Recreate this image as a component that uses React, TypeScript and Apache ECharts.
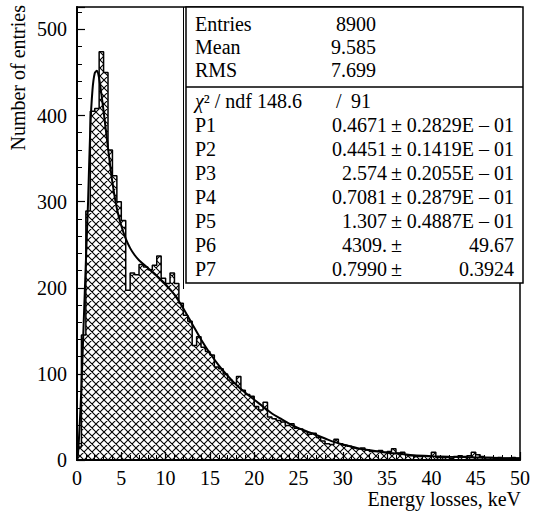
import React, { useEffect, useRef } from "react";
import * as echarts from "echarts";

// ---- data ----
const binWidth = 0.5;
const counts = [
  15, 145, 289, 405, 408, 474, 450, 360, 330, 300,
  278, 197, 217, 215, 227, 224, 221, 226, 237, 211,
  205, 217, 205, 182, 168, 161, 133, 143, 131, 126,
  122, 108, 106, 100, 93, 89, 97, 81, 76, 74,
  62, 58, 67, 50, 48, 46, 44, 40, 42, 37,
  36, 33, 30, 31, 26, 22, 19, 18, 24, 19,
  17, 16, 14, 13, 14, 12, 10, 10, 11, 9,
  10, 13, 8, 9, 6, 5, 4, 4, 5, 4,
  9, 3, 3, 3, 2, 4, 5, 4, 5, 9,
  6, 4, 3, 3, 2, 3, 2, 2, 3, 2,
];
const fitX = [0, 0.1, 0.3, 0.5, 0.75, 1.0, 1.25, 1.5, 1.75, 2.0, 2.25, 2.5, 2.75, 3.0, 3.5, 4.0, 4.5, 5.0, 5.5, 6.0, 6.5, 7.0, 8.0, 9.0, 10, 11, 12, 13, 14, 15, 16, 17, 18, 19, 20, 21, 22, 23, 24, 25, 26, 27, 28, 29, 30, 32, 34, 36, 38, 40, 42, 45, 48, 50];
const fitY = [0, 5, 40, 85, 158, 230, 300, 385, 430, 449, 452, 443, 425, 405, 362, 322, 292, 272, 257, 246, 238, 232, 223, 214, 204, 192, 176, 158, 140, 124, 110, 98, 87, 78, 70, 62, 54, 48, 42, 37, 33, 29, 25, 21, 18, 13, 10, 7.5, 5.5, 4.5, 3.8, 3, 2.3, 2];

const statLabels = ["Entries", "Mean", "RMS"];
const statValues = ["8900", "9.585", "7.699"];
const chi2 = "148.6";
const ndf = "91";
const parNames = ["P1", "P2", "P3", "P4", "P5", "P6", "P7"];
const parValues = ["0.4671", "0.4451", "2.574", "0.7081", "1.307", "4309.", "0.7990"];
const parErrors = ["0.2829E – 01", "0.1419E – 01", "0.2055E – 01", "0.2879E – 01", "0.4887E – 01", "49.67", "0.3924"];

const xTitle = "Energy losses, keV";
const yTitle = "Number of entries";

const FONT = "Liberation Serif";

export default function App() {
  const ref = useRef<HTMLDivElement>(null);
  useEffect(() => {
    if (!ref.current) return;
    const chart = echarts.init(ref.current, undefined, { renderer: "svg" });

    const tile = document.createElement("canvas");
    tile.width = 8;
    tile.height = 8;
    const ctx = tile.getContext("2d")!;
    ctx.strokeStyle = "#000";
    ctx.lineWidth = 1.1;
    ctx.beginPath();
    for (const d of [-8, 0, 8]) {
      ctx.moveTo(d, 0);
      ctx.lineTo(d + 8, 8);
      ctx.moveTo(d + 8, 0);
      ctx.lineTo(d, 8);
    }
    ctx.stroke();

    const histData: number[][] = [[0, 0]];
    counts.forEach((c, i) => histData.push([i * binWidth, c]));
    histData.push([counts.length * binWidth, counts[counts.length - 1]]);
    histData.push([counts.length * binWidth, 0]);

    const fitData = fitX.map((x, i) => [x, fitY[i]]);

    const txt = (text: string, x: number, y: number, align: string, extra: any = {}) => ({
      type: "text",
      x,
      y,
      z: 101,
      style: {
        text,
        fill: "#000",
        fontFamily: FONT,
        fontSize: 20,
        align,
        verticalAlign: "middle",
        ...extra,
      },
    });

    const statRowsY = [24, 47, 70];
    const parRowsY = [125, 149, 173, 197, 221, 245, 269];

    const boxEls: any[] = [
      {
        type: "rect",
        z: 100,
        shape: { x: 186, y: 7, width: 337, height: 276 },
        style: { fill: "#fff", stroke: "#000", lineWidth: 1.5 },
      },
      {
        type: "line",
        z: 100,
        shape: { x1: 183.5, y1: 7, x2: 183.5, y2: 289 },
        style: { stroke: "#000", lineWidth: 1 },
      },
      {
        type: "line",
        z: 101,
        shape: { x1: 186, y1: 87, x2: 523, y2: 87 },
        style: { stroke: "#000", lineWidth: 1.5 },
      },
    ];
    statLabels.forEach((l, i) => {
      boxEls.push(txt(l, 195, statRowsY[i], "left"));
      boxEls.push(txt(statValues[i], 376, statRowsY[i], "right"));
    });
    boxEls.push(
      txt("{i|χ}² / ndf " + chi2, 195, 101, "left", {
        rich: { i: { fontStyle: "italic", fontFamily: FONT, fontSize: 20, fill: "#000" } },
      })
    );
    boxEls.push(txt("/", 336, 101, "left"));
    boxEls.push(txt(ndf, 371, 101, "right"));
    parNames.forEach((p, i) => {
      boxEls.push(txt(p, 195, parRowsY[i], "left"));
      boxEls.push(txt(parValues[i], 387, parRowsY[i], "right"));
      boxEls.push(txt("±", 391, parRowsY[i], "left"));
      boxEls.push(txt(parErrors[i], 514, parRowsY[i], "right"));
    });

    const axisCommon = {
      axisLine: { show: true, lineStyle: { color: "#000", width: 2 } },
      axisTick: { show: true, inside: true, length: 8, lineStyle: { color: "#000", width: 1.2 } },
      minorTick: { show: true, splitNumber: 5, length: 5, lineStyle: { color: "#000", width: 1 } },
      splitLine: { show: false },
      minorSplitLine: { show: false },
    };

    chart.setOption({
      animation: false,
      textStyle: { fontFamily: FONT },
      grid: {
        left: 77,
        right: 11,
        top: 7,
        bottom: 52,
        show: true,
        borderColor: "#000",
        borderWidth: 1.5,
        backgroundColor: "transparent",
      },
      xAxis: {
        type: "value",
        min: 0,
        max: 50,
        interval: 5,
        ...axisCommon,
        axisLabel: { color: "#000", fontFamily: FONT, fontSize: 20, margin: 8 },
      },
      yAxis: {
        type: "value",
        min: 0,
        max: 526,
        interval: 100,
        ...axisCommon,
        axisLabel: {
          color: "#000",
          fontFamily: FONT,
          fontSize: 20,
          margin: 10,
          showMaxLabel: false,
          formatter: (v: number) => (v % 100 === 0 ? String(v) : ""),
        },
      },
      series: [
        {
          type: "line",
          step: "end",
          data: histData,
          symbol: "none",
          z: 2,
          lineStyle: { color: "#000", width: 1.5 },
          areaStyle: {
            color: { image: tile, repeat: "repeat", imageWidth: 8, imageHeight: 8 },
            opacity: 1,
          },
        },
        {
          type: "line",
          data: fitData,
          smooth: 0.3,
          symbol: "none",
          z: 3,
          lineStyle: { color: "#000", width: 2 },
        },
      ],
      graphic: [
        {
          type: "text",
          x: 18,
          y: 5,
          rotation: Math.PI / 2,
          style: {
            text: yTitle,
            fill: "#000",
            fontFamily: FONT,
            fontSize: 20,
            align: "right",
            verticalAlign: "middle",
          },
        },
        {
          type: "text",
          x: 521,
          y: 499,
          style: {
            text: xTitle,
            fill: "#000",
            fontFamily: FONT,
            fontSize: 20,
            align: "right",
            verticalAlign: "middle",
          },
        },
        ...boxEls,
      ],
    });
    return () => chart.dispose();
  }, []);
  return (
    <div
      ref={ref}
      style={{ position: "absolute", left: 0, top: 0, width: 533, height: 512, background: "#fff" }}
    />
  );
}
